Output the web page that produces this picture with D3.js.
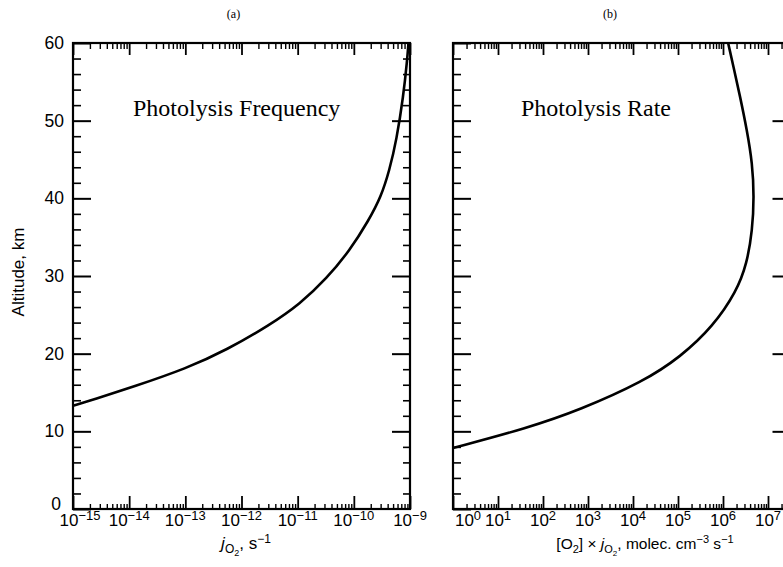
<!DOCTYPE html>
<html>
<head>
<meta charset="utf-8">
<script src="https://cdn.jsdelivr.net/npm/d3@7"></script>
<style>
  html, body { margin: 0; padding: 0; background: #fff; }
  svg { display: block; }
  .serif { font-family: "Liberation Serif", "Times New Roman", serif; }
  .sans { font-family: "Liberation Sans", Arial, Helvetica, sans-serif; }
</style>
</head>
<body>
<svg id="chart" width="783" height="567"></svg>
<script>
// ---------------- data ----------------
const panelTitles = ["(a)", "(b)"];
const panelLabels = ["Photolysis Frequency", "Photolysis Rate"];
const altitudeTicksMajor = [0, 10, 20, 30, 40, 50, 60];
const altitudeTicksMinor = [2,4,6,8,12,14,16,18,22,24,26,28,32,34,36,38,42,44,46,48,52,54,56,58];

// panel (a): photolysis frequency j_O2 (s^-1) vs altitude (km)
const freqAltitude = [13.3, 14.1, 15.75, 18.1, 20.5, 23.7, 26.4, 29.7, 33.3, 37.2, 40.2, 43.6, 47.5, 53.1, 57.8, 60.0];
const freqValue    = [1.0e-15, 2.3e-15, 1.2e-14, 1.05e-13, 5.5e-13, 3.2e-12, 1.1e-11, 3.3e-11, 8.5e-11, 1.85e-10, 3.05e-10, 4.3e-10, 5.75e-10, 7.6e-10, 8.9e-10, 9.4e-10];
const freqDecades  = [-15, -14, -13, -12, -11, -10, -9];

// panel (b): photolysis rate [O2] x j_O2 (molec cm^-3 s^-1) vs altitude (km)
const rateAltitude = [7.85, 10.4, 12.75, 16.4, 19.6, 23.5, 28.0, 31.6, 35.9, 40.2, 44.5, 48.8, 53.1, 57.0, 60.0];
const rateValue    = [1.0, 44, 660, 1.7e4, 1.15e5, 6.0e5, 2.0e6, 3.4e6, 4.5e6, 4.9e6, 4.5e6, 3.4e6, 2.4e6, 1.7e6, 1.3e6];
const rateDecades  = [0, 1, 2, 3, 4, 5, 6, 7];

// ---------------- layout ----------------
const svg = d3.select("#chart");
const plotTop = 43, plotBottom = 509;
const y = d3.scaleLinear().domain([0, 60]).range([plotBottom, plotTop]);
const xA = d3.scaleLog().domain([1e-15, 1e-9]).range([73, 410]);
const xB = d3.scaleLog().domain([1, Math.pow(10, 7.5)]).range([453, 790.5]);

function minorValues(scale) {
  const [d0, d1] = scale.domain();
  const k0 = Math.floor(Math.log10(d0) + 1e-9), k1 = Math.ceil(Math.log10(d1));
  const out = [];
  for (let k = k0; k <= k1; k++) for (let m = 2; m <= 9; m++) {
    const v = m * Math.pow(10, k);
    if (v > d0 * 1.0001 && v < d1 * 0.9999) out.push(v);
  }
  return out;
}

function styleAxis(g, w) {
  g.select(".domain").remove();
  g.selectAll(".tick line").attr("stroke", "#000").attr("stroke-width", w);
  g.selectAll(".tick text").remove();
}

function drawPanel(x, decades, values, alts, title, label, labelX, showYLabels, firstLabelShift) {
  const g = svg.append("g");
  const [x0, x1] = x.range();
  const majors = decades.map(k => Math.pow(10, k));
  const minors = minorValues(x);

  // y ticks, left (inward) and right (inward)
  g.append("g").attr("transform", `translate(${x0},0)`)
    .call(d3.axisLeft(y).tickValues(altitudeTicksMajor).tickSize(-18)).call(a => styleAxis(a, 2));
  g.append("g").attr("transform", `translate(${x0},0)`)
    .call(d3.axisLeft(y).tickValues(altitudeTicksMinor).tickSize(-8)).call(a => styleAxis(a, 1.6));
  g.append("g").attr("transform", `translate(${x1},0)`)
    .call(d3.axisRight(y).tickValues(altitudeTicksMajor.slice(1, -1)).tickSize(-18)).call(a => styleAxis(a, 2));
  g.append("g").attr("transform", `translate(${x1},0)`)
    .call(d3.axisRight(y).tickValues(altitudeTicksMinor).tickSize(-7)).call(a => styleAxis(a, 1.6));

  // x ticks, bottom (upwards) and top (downwards)
  g.append("g").attr("transform", `translate(0,${plotBottom})`)
    .call(d3.axisBottom(x).tickValues(majors).tickSize(-13)).call(a => styleAxis(a, 1.8));
  g.append("g").attr("transform", `translate(0,${plotBottom})`)
    .call(d3.axisBottom(x).tickValues(minors).tickSize(-5)).call(a => styleAxis(a, 1.4));
  g.append("g").attr("transform", `translate(0,${plotTop})`)
    .call(d3.axisTop(x).tickValues(majors).tickSize(-12)).call(a => styleAxis(a, 1.8));
  g.append("g").attr("transform", `translate(0,${plotTop})`)
    .call(d3.axisTop(x).tickValues(minors).tickSize(-6)).call(a => styleAxis(a, 1.4));

  // frame
  g.append("rect").attr("x", x0).attr("y", plotTop).attr("width", x1 - x0).attr("height", plotBottom - plotTop)
    .attr("fill", "none").attr("stroke", "#000").attr("stroke-width", 2.2);

  // x tick labels 10^k
  decades.forEach((k, i) => {
    const t = g.append("text").attr("class", "sans")
      .attr("x", x(Math.pow(10, k)) + (i === 0 ? firstLabelShift : 0))
      .attr("y", plotBottom + 17).attr("text-anchor", "middle").attr("font-size", 17).attr("fill", "#000");
    t.append("tspan").text("10");
    t.append("tspan").attr("dy", -6).attr("font-size", 13).text(String(k).replace("-", "\u2212"));
  });

  // y tick labels
  if (showYLabels) {
    altitudeTicksMajor.forEach(v => {
      g.append("text").attr("class", "sans").attr("x", x0 - (v === 0 ? 12 : 9)).attr("y", y(v) + 6 - (v === 0 ? 5 : 0))
        .attr("text-anchor", "end").attr("font-size", 17.5).attr("fill", "#000").text(v);
    });
  }

  // curve
  const line = d3.line().x(d => x(d[0])).y(d => y(d[1])).curve(d3.curveBasis);
  const pts = values.map((v, i) => [v, alts[i]]);
  g.append("path").attr("d", line(pts)).attr("fill", "none").attr("stroke", "#000")
    .attr("stroke-width", 2.6).attr("stroke-linejoin", "round");

  // panel title and in-plot label
  g.append("text").attr("class", "serif").attr("x", (x0 + Math.min(x1, 783)) / 2 - 8).attr("y", 18)
    .attr("text-anchor", "middle").attr("font-size", 12).text(title);
  g.append("text").attr("class", "serif").attr("x", labelX).attr("y", 116)
    .attr("font-size", 24).text(label);
  return g;
}

drawPanel(xA, freqDecades, freqValue, freqAltitude, panelTitles[0], panelLabels[0], 133, true, 7);
drawPanel(xB, rateDecades, rateValue, rateAltitude, panelTitles[1], panelLabels[1], 521, false, 15);

// axis titles
svg.append("text").attr("class", "sans")
  .attr("transform", `translate(24,272) rotate(-90)`)
  .attr("text-anchor", "middle").attr("font-size", 17).text("Altitude, km");

// left x title: j_O2, s^-1
const tA = svg.append("text").attr("class", "sans").attr("x", 246).attr("y", 549)
  .attr("text-anchor", "middle").attr("font-size", 17);
tA.append("tspan").attr("font-style", "italic").text("j");
tA.append("tspan").attr("dy", 4).attr("font-size", 12).text("O");
tA.append("tspan").attr("dy", 3).attr("font-size", 9).text("2");
tA.append("tspan").attr("dy", -7).text(", s");
tA.append("tspan").attr("dy", -6).attr("font-size", 12).text("\u22121");

// right x title: [O2] x j_O2, molec. cm^-3 s^-1
const tB = svg.append("text").attr("class", "sans").attr("x", 645).attr("y", 549)
  .attr("text-anchor", "middle").attr("font-size", 15.5);
tB.append("tspan").text("[O");
tB.append("tspan").attr("dy", 4).attr("font-size", 11).text("2");
tB.append("tspan").attr("dy", -4).text("] \u00d7 ");
tB.append("tspan").attr("font-style", "italic").text("j");
tB.append("tspan").attr("dy", 4).attr("font-size", 11).text("O");
tB.append("tspan").attr("dy", 3).attr("font-size", 8).text("2");
tB.append("tspan").attr("dy", -7).text(", molec. cm");
tB.append("tspan").attr("dy", -6).attr("font-size", 11).text("\u22123");
tB.append("tspan").attr("dy", 6).text(" s");
tB.append("tspan").attr("dy", -6).attr("font-size", 11).text("\u22121");
</script>
</body>
</html>
